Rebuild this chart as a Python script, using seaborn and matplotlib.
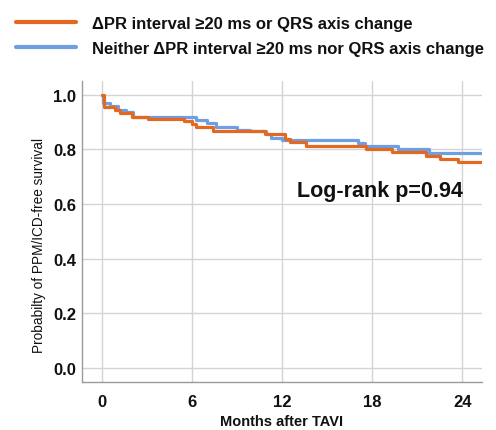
import numpy as np
import pandas as pd
import matplotlib
matplotlib.use('Agg')
import matplotlib.pyplot as plt
import seaborn as sns

# Step curves (months, survival probability)
pr_label = 'ΔPR interval ≥20 ms or QRS axis change'
pr_time = [0, 0.15, 0.9, 1.2, 2.05, 3.1, 5.5, 6.0, 6.3, 7.4, 10.9, 12.2, 12.5,
           13.6, 17.6, 19.3, 21.6, 22.5, 23.7, 25.2]
pr_surv = [1.0, 0.954, 0.944, 0.932, 0.920, 0.911, 0.902, 0.893, 0.883, 0.866,
           0.856, 0.838, 0.825, 0.813, 0.800, 0.791, 0.776, 0.766, 0.754, 0.754]

none_label = 'Neither ΔPR interval ≥20 ms nor QRS axis change'
none_time = [0, 0.1, 0.55, 1.1, 1.65, 2.1, 6.3, 7.0, 7.6, 9.0, 9.85, 10.95,
             11.3, 12.0, 17.05, 17.5, 19.7, 21.8, 25.2]
none_surv = [1.0, 0.969, 0.960, 0.945, 0.936, 0.919, 0.907, 0.895, 0.883, 0.871,
             0.866, 0.856, 0.843, 0.835, 0.822, 0.813, 0.800, 0.786, 0.786]

x_ticks = [0, 6, 12, 18, 24]
y_ticks = [0.0, 0.2, 0.4, 0.6, 0.8, 1.0]
p_text = 'Log-rank p=0.94'

df = pd.concat([
    pd.DataFrame({'Months': pr_time, 'Survival': pr_surv, 'Group': pr_label}),
    pd.DataFrame({'Months': none_time, 'Survival': none_surv, 'Group': none_label}),
], ignore_index=True)

sns.set_style('white')
plt.rcParams['font.family'] = ['Liberation Sans', 'DejaVu Sans']
plt.rcParams['text.color'] = '#111111'
plt.rcParams['xtick.color'] = '#111111'
plt.rcParams['ytick.color'] = '#111111'
plt.rcParams['axes.labelcolor'] = '#111111'

fig = plt.figure(figsize=(4.96, 4.31), dpi=100)
ax = fig.add_axes([0.1653, 0.1114, 0.8065, 0.6983])

palette = {pr_label: '#E2691F', none_label: '#6F9EE3'}
sns.lineplot(data=df, x='Months', y='Survival', hue='Group', palette=palette,
             hue_order=[none_label, pr_label], drawstyle='steps-post',
             linewidth=2.3, ax=ax, legend=False, estimator=None, sort=False)

ax.set_xlim(-1.3, 25.3)
ax.set_ylim(-0.052, 1.05)
ax.set_xticks(x_ticks)
ax.set_yticks(y_ticks)
ax.set_yticklabels(['%.1f' % v for v in y_ticks])
ax.grid(True, color='#d4d4d4', linewidth=1.0)
ax.set_axisbelow(True)
for s in ['top', 'right']:
    ax.spines[s].set_visible(False)
for s in ['left', 'bottom']:
    ax.spines[s].set_color('#9a9a9a')
    ax.spines[s].set_linewidth(1.0)
ax.tick_params(axis='both', length=0, labelsize=12)
ax.tick_params(axis='y', pad=4)
ax.tick_params(axis='x', pad=9)
for lab in ax.get_xticklabels() + ax.get_yticklabels():
    lab.set_fontweight('bold')

ax.set_xlabel('Months after TAVI', fontsize=10.5, fontweight='bold', labelpad=3)
ax.set_ylabel('Probabilty of PPM/ICD-free survival', fontsize=9.8)
ax.yaxis.set_label_coords(-0.09, 0.458)

ax.text(24.0, 0.65, p_text, fontsize=15.5, fontweight='bold', ha='right', va='center')

# legend above the plot
handles = [plt.Line2D([], [], color=palette[pr_label], linewidth=3),
           plt.Line2D([], [], color=palette[none_label], linewidth=3)]
fig.legend(handles, [pr_label, none_label], loc='upper left',
           bbox_to_anchor=(-0.002, 1.0), frameon=False, handlelength=3.6,
           handletextpad=1.0, labelspacing=0.6, borderaxespad=0.6,
           prop={'weight': 'bold', 'size': 12})

fig.savefig('out.png', dpi=100)
